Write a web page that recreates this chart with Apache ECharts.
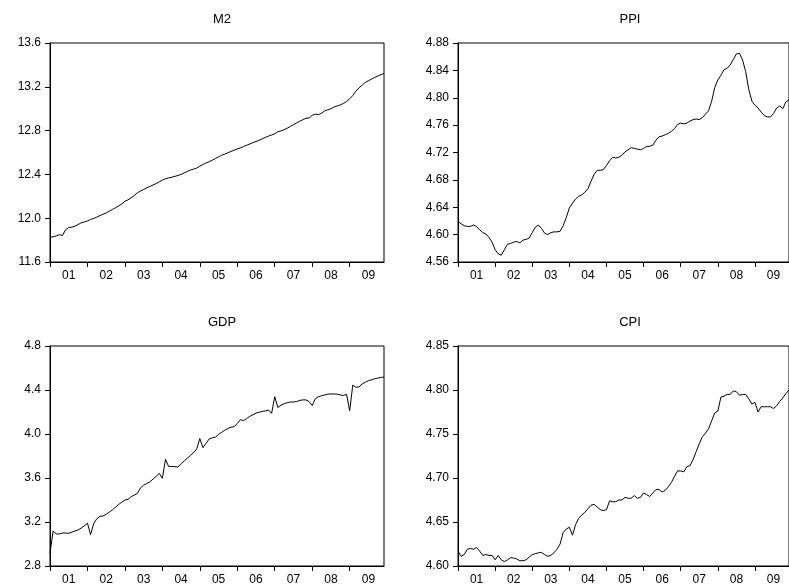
<!DOCTYPE html>
<html>
<head>
<meta charset="utf-8">
<script src="https://cdn.jsdelivr.net/npm/echarts@6/dist/echarts.min.js"></script>
<style>
  html, body { margin: 0; padding: 0; background: #fff; }
  #chart { width: 789px; height: 588px; }
</style>
</head>
<body>
<div id="chart"></div>
<script>
// Monthly observations, 2001M01 – 2009M12 (log levels)
const years = ['01', '02', '03', '04', '05', '06', '07', '08', '09'];

const m2 = [
  11.826, 11.830, 11.838, 11.850, 11.842, 11.895, 11.915, 11.918, 11.928, 11.942, 11.958, 11.966,
  11.975, 11.988, 11.998, 12.010, 12.024, 12.036, 12.048, 12.064, 12.080, 12.096, 12.112, 12.130,
  12.155, 12.168, 12.186, 12.208, 12.232, 12.248, 12.263, 12.277, 12.290, 12.303, 12.316, 12.332,
  12.348, 12.360, 12.368, 12.374, 12.382, 12.390, 12.400, 12.414, 12.427, 12.440, 12.448, 12.458,
  12.475, 12.490, 12.505, 12.515, 12.530, 12.545, 12.560, 12.575, 12.585, 12.597, 12.610, 12.622,
  12.632, 12.642, 12.655, 12.666, 12.678, 12.690, 12.700, 12.712, 12.725, 12.738, 12.750, 12.760,
  12.770, 12.790, 12.797, 12.808, 12.822, 12.838, 12.855, 12.870, 12.885, 12.900, 12.912, 12.915,
  12.940, 12.950, 12.945, 12.960, 12.980, 12.990, 13.000, 13.015, 13.025, 13.035, 13.048, 13.065,
  13.090, 13.120, 13.160, 13.190, 13.215, 13.240, 13.255, 13.270, 13.285, 13.298, 13.310, 13.322
];

const ppi = [
  4.619, 4.616, 4.613, 4.612, 4.612, 4.614, 4.612, 4.607, 4.603, 4.601, 4.596, 4.589,
  4.578, 4.572, 4.570, 4.578, 4.586, 4.587, 4.589, 4.590, 4.588, 4.592, 4.593, 4.595,
  4.603, 4.611, 4.614, 4.609, 4.602, 4.600, 4.603, 4.604, 4.604, 4.605, 4.613, 4.625,
  4.639, 4.646, 4.652, 4.656, 4.658, 4.662, 4.667, 4.678, 4.688, 4.694, 4.694, 4.695,
  4.701, 4.708, 4.713, 4.712, 4.713, 4.716, 4.721, 4.724, 4.727, 4.726, 4.725, 4.724,
  4.726, 4.729, 4.729, 4.731, 4.738, 4.743, 4.744, 4.746, 4.748, 4.751, 4.755, 4.761,
  4.763, 4.762, 4.763, 4.766, 4.768, 4.769, 4.768, 4.771, 4.776, 4.781, 4.795, 4.815,
  4.826, 4.833, 4.841, 4.843, 4.848, 4.856, 4.864, 4.865, 4.855, 4.838, 4.812, 4.795,
  4.789, 4.785, 4.779, 4.774, 4.772, 4.772, 4.777, 4.785, 4.788, 4.784, 4.794, 4.797
];

const gdp = [
  2.915, 3.118, 3.092, 3.091, 3.100, 3.100, 3.097, 3.108, 3.118, 3.128, 3.145, 3.165,
  3.190, 3.085, 3.185, 3.230, 3.252, 3.255, 3.270, 3.290, 3.310, 3.335, 3.360, 3.380,
  3.400, 3.405, 3.430, 3.445, 3.460, 3.510, 3.535, 3.550, 3.565, 3.590, 3.615, 3.642,
  3.597, 3.770, 3.705, 3.705, 3.703, 3.700, 3.730, 3.755, 3.780, 3.805, 3.830, 3.865,
  3.958, 3.876, 3.915, 3.955, 3.965, 3.972, 3.997, 4.015, 4.035, 4.050, 4.062, 4.067,
  4.095, 4.130, 4.122, 4.140, 4.160, 4.175, 4.190, 4.198, 4.205, 4.210, 4.218, 4.188,
  4.339, 4.240, 4.262, 4.275, 4.285, 4.291, 4.291, 4.295, 4.305, 4.310, 4.310, 4.295,
  4.258, 4.322, 4.338, 4.348, 4.355, 4.362, 4.364, 4.364, 4.362, 4.355, 4.350, 4.361,
  4.212, 4.445, 4.425, 4.428, 4.455, 4.470, 4.485, 4.493, 4.502, 4.508, 4.514, 4.518
];

const cpi = [
  4.617, 4.611, 4.613, 4.619, 4.620, 4.619, 4.621, 4.617, 4.612, 4.613, 4.612, 4.612,
  4.607, 4.612, 4.607, 4.605, 4.607, 4.6095, 4.609, 4.608, 4.606, 4.606, 4.607, 4.610,
  4.613, 4.614, 4.615, 4.6155, 4.613, 4.611, 4.612, 4.615, 4.619, 4.625, 4.638, 4.642,
  4.644, 4.635, 4.647, 4.654, 4.658, 4.661, 4.665, 4.669, 4.670, 4.667, 4.664, 4.663,
  4.664, 4.674, 4.673, 4.673, 4.675, 4.675, 4.678, 4.677, 4.677, 4.680, 4.677, 4.678,
  4.683, 4.681, 4.679, 4.683, 4.687, 4.687, 4.684, 4.686, 4.690, 4.695, 4.702, 4.708,
  4.708, 4.707, 4.713, 4.714, 4.721, 4.730, 4.739, 4.747, 4.751, 4.756, 4.765, 4.774,
  4.776, 4.792, 4.793, 4.795, 4.795, 4.799, 4.798, 4.794, 4.795, 4.795, 4.790, 4.784,
  4.786, 4.775, 4.781, 4.781, 4.781, 4.781, 4.779, 4.782, 4.787, 4.791, 4.796, 4.800
];

// Month categories built from the year list
const months = [];
years.forEach(y => {
  for (let m = 1; m <= 12; m++) months.push('20' + y + '-' + String(m).padStart(2, '0'));
});

// Panel definitions: title, series, y-axis scale
const panels = [
  { name: 'M2',  data: m2,  min: 11.6, max: 13.6, step: 0.4,  digits: 1 },
  { name: 'PPI', data: ppi, min: 4.56, max: 4.88, step: 0.04, digits: 2 },
  { name: 'GDP', data: gdp, min: 2.8,  max: 4.8,  step: 0.4,  digits: 1 },
  { name: 'CPI', data: cpi, min: 4.60, max: 4.85, step: 0.05, digits: 2 }
];

// Plot boxes (px)
const boxes = [
  { left: 50, top: 43, width: 334, height: 219 },
  { left: 458, top: 43, width: 334, height: 219 },
  { left: 50, top: 346, width: 334, height: 220 },
  { left: 458, top: 346, width: 334, height: 220 }
];

const FONT = 'Liberation Sans, Arial, sans-serif';
const ink = '#000';

const option = {
  animation: false,
  backgroundColor: '#fff',
  title: panels.map((p, k) => ({
    text: p.name,
    left: boxes[k].left + boxes[k].width / 2,
    top: boxes[k].top - 35,
    textAlign: 'center',
    textStyle: { fontFamily: FONT, fontSize: 13, fontWeight: 'normal', color: ink }
  })),
  grid: boxes.map(b => ({
    left: b.left, top: b.top, width: b.width, height: b.height,
    show: true, borderColor: ink, borderWidth: 1, backgroundColor: 'transparent',
    containLabel: false
  })),
  xAxis: panels.map((p, k) => ({
    type: 'category',
    gridIndex: k,
    data: months,
    boundaryGap: false,
    axisLine: { show: true, lineStyle: { color: ink, width: 1 } },
    axisTick: {
      show: true, inside: false, length: 5,
      interval: (i) => i % 12 === 0,
      lineStyle: { color: ink, width: 1 }
    },
    axisLabel: {
      show: true,
      interval: (i) => i % 12 === 6,
      formatter: (v) => v.slice(2, 4),
      fontFamily: FONT, fontSize: 12, color: ink, margin: 8
    },
    splitLine: { show: false }
  })),
  yAxis: panels.map((p, k) => ({
    type: 'value',
    gridIndex: k,
    min: p.min, max: p.max, interval: p.step,
    axisLine: { show: true, lineStyle: { color: ink, width: 1 } },
    axisTick: { show: true, inside: false, length: 5, lineStyle: { color: ink, width: 1 } },
    axisLabel: {
      formatter: (v) => v.toFixed(p.digits),
      fontFamily: FONT, fontSize: 12, color: ink, margin: 9
    },
    splitLine: { show: false }
  })),
  series: panels.map((p, k) => ({
    type: 'line',
    name: p.name,
    xAxisIndex: k,
    yAxisIndex: k,
    data: p.data,
    showSymbol: false,
    symbol: 'none',
    lineStyle: { color: ink, width: 1 },
    silent: true
  }))
};

const chart = echarts.init(document.getElementById('chart'), null, { renderer: 'canvas' });
chart.setOption(option);
</script>
</body>
</html>
